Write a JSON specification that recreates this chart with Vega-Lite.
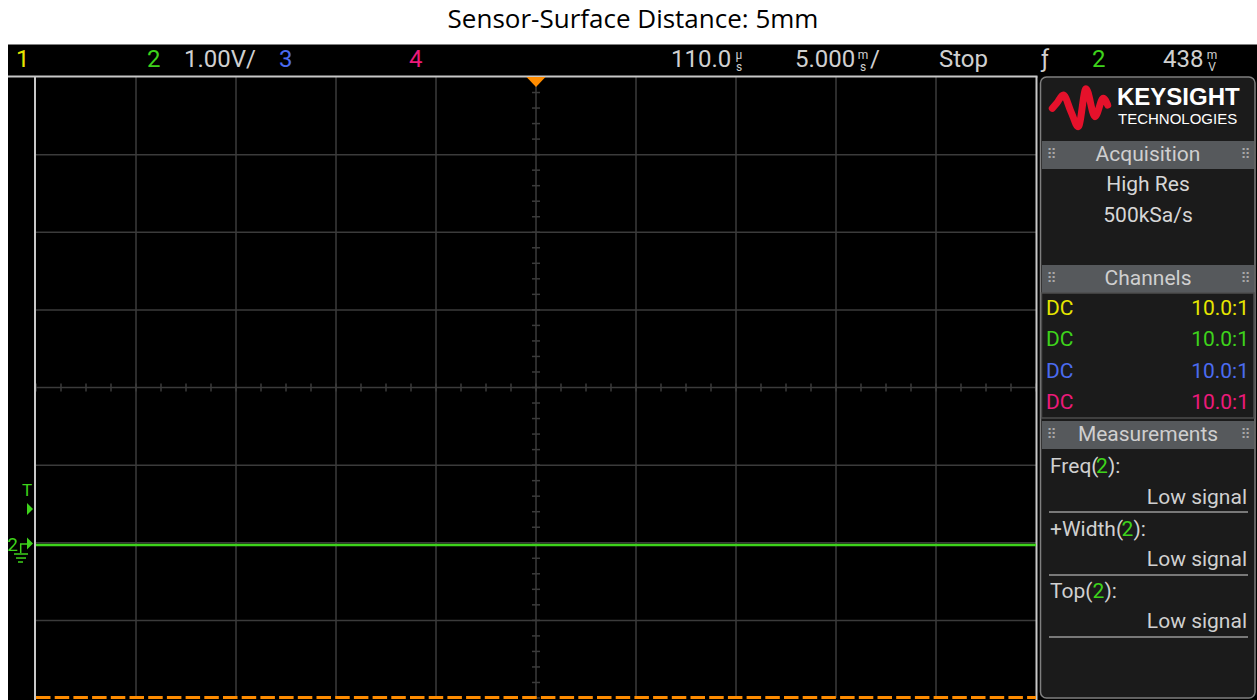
{
  "$schema": "https://vega.github.io/schema/vega-lite/v6.json",
  "width": 1000,
  "height": 621,
  "autosize": {"type": "none"},
  "padding": {"left": 36, "top": 77, "right": 221, "bottom": 2},
  "background": "#000000",
  "config": {"view": {"stroke": null}},
  "datasets": {
    "trace": [
      {"t": -5, "v": -2.03}, {"t": -4, "v": -2.03}, {"t": -3, "v": -2.03}, {"t": -2, "v": -2.03},
      {"t": -1, "v": -2.03}, {"t": 0, "v": -2.03}, {"t": 1, "v": -2.03}, {"t": 2, "v": -2.03},
      {"t": 3, "v": -2.03}, {"t": 4, "v": -2.03}, {"t": 5, "v": -2.03}
    ],
    "gridX": [{"d": -4}, {"d": -3}, {"d": -2}, {"d": -1}, {"d": 0}, {"d": 1}, {"d": 2}, {"d": 3}, {"d": 4}],
    "gridY": [{"d": -3}, {"d": -2}, {"d": -1}, {"d": 0}, {"d": 1}, {"d": 2}, {"d": 3}],
    "tickX": [
      {"d": -5}, {"d": -4.75}, {"d": -4.5}, {"d": -4.25}, {"d": -4}, {"d": -3.75}, {"d": -3.5}, {"d": -3.25},
      {"d": -3}, {"d": -2.75}, {"d": -2.5}, {"d": -2.25}, {"d": -2}, {"d": -1.75}, {"d": -1.5}, {"d": -1.25},
      {"d": -1}, {"d": -0.75}, {"d": -0.5}, {"d": -0.25}, {"d": 0}, {"d": 0.25}, {"d": 0.5}, {"d": 0.75},
      {"d": 1}, {"d": 1.25}, {"d": 1.5}, {"d": 1.75}, {"d": 2}, {"d": 2.25}, {"d": 2.5}, {"d": 2.75},
      {"d": 3}, {"d": 3.25}, {"d": 3.5}, {"d": 3.75}, {"d": 4}, {"d": 4.25}, {"d": 4.5}, {"d": 4.75}, {"d": 5}
    ],
    "tickY": [
      {"d": -4}, {"d": -3.8}, {"d": -3.6}, {"d": -3.4}, {"d": -3.2}, {"d": -3}, {"d": -2.8}, {"d": -2.6},
      {"d": -2.4}, {"d": -2.2}, {"d": -2}, {"d": -1.8}, {"d": -1.6}, {"d": -1.4}, {"d": -1.2}, {"d": -1},
      {"d": -0.8}, {"d": -0.6}, {"d": -0.4}, {"d": -0.2}, {"d": 0}, {"d": 0.2}, {"d": 0.4}, {"d": 0.6},
      {"d": 0.8}, {"d": 1}, {"d": 1.2}, {"d": 1.4}, {"d": 1.6}, {"d": 1.8}, {"d": 2}, {"d": 2.2},
      {"d": 2.4}, {"d": 2.6}, {"d": 2.8}, {"d": 3}, {"d": 3.2}, {"d": 3.4}, {"d": 3.6}, {"d": 3.8}, {"d": 4}
    ],
    "topbar": [
      {"label": "1", "x": -5.2, "ch": "1"},
      {"label": "2", "x": -3.89, "ch": "2"},
      {"label": "1.00V/", "x": -3.52, "ch": "txt"},
      {"label": "3", "x": -2.57, "ch": "3"},
      {"label": "4", "x": -1.27, "ch": "4"},
      {"label": "110.0", "x": 1.35, "ch": "txt"},
      {"label": "5.000", "x": 2.59, "ch": "txt"},
      {"label": "/", "x": 3.34, "ch": "txt"},
      {"label": "Stop", "x": 4.03, "ch": "txt"},
      {"label": "ƒ", "x": 5.05, "ch": "txt"},
      {"label": "2", "x": 5.56, "ch": "2"},
      {"label": "438", "x": 6.27, "ch": "txt"}
    ],
    "units": [
      {"label": "µ", "x": 2.03, "y": 4.28},
      {"label": "s", "x": 2.03, "y": 4.13},
      {"label": "m", "x": 3.27, "y": 4.28},
      {"label": "s", "x": 3.27, "y": 4.13},
      {"label": "m", "x": 6.76, "y": 4.28},
      {"label": "V", "x": 6.76, "y": 4.13}
    ],
    "heads": [
      {"section": "Acquisition", "top": 3.1755, "bottom": 2.815, "mid": 2.995},
      {"section": "Channels", "top": 1.578, "bottom": 1.217, "mid": 1.398},
      {"section": "Measurements", "top": -0.432, "bottom": -0.792, "mid": -0.612}
    ],
    "acq": [
      {"label": "High Res", "y": 2.609},
      {"label": "500kSa/s", "y": 2.209}
    ],
    "channels": [
      {"ch": "1", "y": 1.011},
      {"ch": "2", "y": 0.612},
      {"ch": "3", "y": 0.2},
      {"ch": "4", "y": -0.2}
    ],
    "measParts": [
      {"label": "Freq(", "x": 5.14, "y": -1.024, "ch": "txt"},
      {"label": "2", "x": 5.6, "y": -1.024, "ch": "2"},
      {"label": "):", "x": 5.72, "y": -1.024, "ch": "txt"},
      {"label": "+Width(", "x": 5.14, "y": -1.836, "ch": "txt"},
      {"label": "2", "x": 5.855, "y": -1.836, "ch": "2"},
      {"label": "):", "x": 5.975, "y": -1.836, "ch": "txt"},
      {"label": "Top(", "x": 5.14, "y": -2.634, "ch": "txt"},
      {"label": "2", "x": 5.565, "y": -2.634, "ch": "2"},
      {"label": "):", "x": 5.685, "y": -2.634, "ch": "txt"}
    ],
    "measValues": [
      {"measure": "Freq", "value": "Low signal", "y": -1.424, "sep": -1.604},
      {"measure": "+Width", "value": "Low signal", "y": -2.222, "sep": -2.415},
      {"measure": "Top", "value": "Low signal", "y": -3.021, "sep": -3.214}
    ],
    "ground": [
      {"x1": -5.16, "x2": -5.09, "y1": -2.016, "y2": -2.016},
      {"x1": -5.153, "x2": -5.153, "y1": -2.016, "y2": -2.132},
      {"x1": -5.22, "x2": -5.08, "y1": -2.145, "y2": -2.145},
      {"x1": -5.2, "x2": -5.1, "y1": -2.197, "y2": -2.197},
      {"x1": -5.18, "x2": -5.13, "y1": -2.248, "y2": -2.248}
    ],
    "markers": [{"name": "T", "y": -1.565}, {"name": "2", "y": -2.01}],
    "logo": [
      {"x": 5.163, "y": 3.597}, {"x": 5.207, "y": 3.661}, {"x": 5.273, "y": 3.768},
      {"x": 5.35, "y": 3.553}, {"x": 5.423, "y": 3.36}, {"x": 5.5, "y": 3.85},
      {"x": 5.59, "y": 3.489}, {"x": 5.673, "y": 3.726}, {"x": 5.717, "y": 3.639}
    ]
  },
  "layer": [
    {
      "data": {"values": [{}]},
      "mark": {"type": "rect", "color": "#ffffff"},
      "encoding": {
        "x": {"datum": -5.37, "type": "quantitative", "scale": {"domain": [-5, 5], "nice": false, "zero": false}, "axis": null},
        "x2": {"datum": 7.22},
        "y": {"datum": 5.0, "type": "quantitative", "scale": {"domain": [-4, 4], "nice": false, "zero": false}, "axis": null},
        "y2": {"datum": 4.42}
      }
    },
    {
      "data": {"values": [{}]},
      "mark": {"type": "rect", "color": "#ffffff"},
      "encoding": {
        "x": {"datum": -5.37, "type": "quantitative", "scale": {"domain": [-5, 5], "nice": false, "zero": false}, "axis": null},
        "x2": {"datum": -5.28},
        "y": {"datum": 5.0, "type": "quantitative", "scale": {"domain": [-4, 4], "nice": false, "zero": false}, "axis": null},
        "y2": {"datum": -4.03}
      }
    },
    {
      "data": {"values": [{}]},
      "mark": {"type": "rect", "fill": "#1b1b1b", "stroke": "#7f7f7f", "strokeWidth": 1.5, "cornerRadius": 6},
      "encoding": {
        "x": {"datum": 5.045, "type": "quantitative", "scale": {"domain": [-5, 5], "nice": false, "zero": false}, "axis": null},
        "x2": {"datum": 7.19},
        "y": {"datum": 4.0, "type": "quantitative", "scale": {"domain": [-4, 4], "nice": false, "zero": false}, "axis": null},
        "y2": {"datum": -4.0}
      }
    },
    {
      "data": {"name": "heads"},
      "mark": {"type": "rect", "fill": "#56595c"},
      "encoding": {
        "x": {"datum": 5.06, "type": "quantitative", "scale": {"domain": [-5, 5], "nice": false, "zero": false}, "axis": null},
        "x2": {"datum": 7.18},
        "y": {"field": "top", "type": "quantitative", "scale": {"domain": [-4, 4], "nice": false, "zero": false}, "axis": null},
        "y2": {"field": "bottom"}
      }
    },
    {
      "data": {"values": [{}]},
      "mark": {"type": "rect", "fill": "#1b1b1b", "stroke": "#4d4d4d", "strokeWidth": 1.5},
      "encoding": {
        "x": {"datum": 5.055, "type": "quantitative", "scale": {"domain": [-5, 5], "nice": false, "zero": false}, "axis": null},
        "x2": {"datum": 7.18},
        "y": {"datum": 1.217, "type": "quantitative", "scale": {"domain": [-4, 4], "nice": false, "zero": false}, "axis": null},
        "y2": {"datum": -0.393}
      }
    },
    {
      "data": {"name": "gridX"},
      "mark": {"type": "rule", "color": "#3b3b3b", "strokeWidth": 1.5},
      "encoding": {
        "x": {"field": "d", "type": "quantitative", "scale": {"domain": [-5, 5], "nice": false, "zero": false}, "axis": null},
        "y": {"datum": -4, "type": "quantitative", "scale": {"domain": [-4, 4], "nice": false, "zero": false}, "axis": null},
        "y2": {"datum": 4}
      }
    },
    {
      "data": {"name": "gridY"},
      "mark": {"type": "rule", "color": "#3b3b3b", "strokeWidth": 1.5},
      "encoding": {
        "y": {"field": "d", "type": "quantitative", "scale": {"domain": [-4, 4], "nice": false, "zero": false}, "axis": null},
        "x": {"datum": -5, "type": "quantitative", "scale": {"domain": [-5, 5], "nice": false, "zero": false}, "axis": null},
        "x2": {"datum": 5}
      }
    },
    {
      "data": {"name": "tickX"},
      "mark": {"type": "rule", "color": "#3b3b3b", "strokeWidth": 1.5},
      "encoding": {
        "x": {"field": "d", "type": "quantitative", "scale": {"domain": [-5, 5], "nice": false, "zero": false}, "axis": null},
        "y": {"datum": -0.052, "type": "quantitative", "scale": {"domain": [-4, 4], "nice": false, "zero": false}, "axis": null},
        "y2": {"datum": 0.052}
      }
    },
    {
      "data": {"name": "tickY"},
      "mark": {"type": "rule", "color": "#3b3b3b", "strokeWidth": 1.5},
      "encoding": {
        "y": {"field": "d", "type": "quantitative", "scale": {"domain": [-4, 4], "nice": false, "zero": false}, "axis": null},
        "x": {"datum": -0.04, "type": "quantitative", "scale": {"domain": [-5, 5], "nice": false, "zero": false}, "axis": null},
        "x2": {"datum": 0.04}
      }
    },
    {
      "data": {"values": [{}]},
      "mark": {"type": "rule", "color": "#c8c8c8", "strokeWidth": 2},
      "encoding": {
        "x": {"datum": -5.01, "type": "quantitative", "scale": {"domain": [-5, 5], "nice": false, "zero": false}, "axis": null},
        "y": {"datum": 4.006, "type": "quantitative", "scale": {"domain": [-4, 4], "nice": false, "zero": false}, "axis": null},
        "y2": {"datum": -4.03}
      }
    },
    {
      "data": {"values": [{}]},
      "mark": {"type": "rule", "color": "#c8c8c8", "strokeWidth": 2},
      "encoding": {
        "x": {"datum": 5.005, "type": "quantitative", "scale": {"domain": [-5, 5], "nice": false, "zero": false}, "axis": null},
        "y": {"datum": 4.006, "type": "quantitative", "scale": {"domain": [-4, 4], "nice": false, "zero": false}, "axis": null},
        "y2": {"datum": -4.03}
      }
    },
    {
      "data": {"values": [{}]},
      "mark": {"type": "rule", "color": "#c8c8c8", "strokeWidth": 2},
      "encoding": {
        "y": {"datum": 4.006, "type": "quantitative", "scale": {"domain": [-4, 4], "nice": false, "zero": false}, "axis": null},
        "x": {"datum": -5.28, "type": "quantitative", "scale": {"domain": [-5, 5], "nice": false, "zero": false}, "axis": null},
        "x2": {"datum": 5.015}
      }
    },
    {
      "data": {"values": [{}]},
      "mark": {"type": "rule", "color": "#ff8c00", "strokeWidth": 3, "strokeDash": [14.5, 4.2]},
      "encoding": {
        "y": {"datum": -3.995, "type": "quantitative", "scale": {"domain": [-4, 4], "nice": false, "zero": false}, "axis": null},
        "x": {"datum": -5, "type": "quantitative", "scale": {"domain": [-5, 5], "nice": false, "zero": false}, "axis": null},
        "x2": {"datum": 5}
      }
    },
    {
      "data": {"values": [{}]},
      "mark": {"type": "point", "filled": true, "opacity": 1, "color": "#ff8c00", "shape": "M-1,-0.5L1,-0.5L0,0.55Z", "size": 361},
      "encoding": {
        "x": {"datum": 0, "type": "quantitative", "scale": {"domain": [-5, 5], "nice": false, "zero": false}, "axis": null},
        "y": {"datum": 3.939, "type": "quantitative", "scale": {"domain": [-4, 4], "nice": false, "zero": false}, "axis": null}
      }
    },
    {
      "data": {"name": "trace"},
      "mark": {"type": "line", "color": "#3ed31b", "strokeWidth": 2.5},
      "encoding": {
        "x": {"field": "t", "type": "quantitative", "scale": {"domain": [-5, 5], "nice": false, "zero": false}, "axis": null},
        "y": {"field": "v", "type": "quantitative", "scale": {"domain": [-4, 4], "nice": false, "zero": false}, "axis": null}
      }
    },
    {
      "data": {"name": "markers"},
      "mark": {"type": "point", "filled": true, "opacity": 1, "color": "#3ed31b", "shape": "M-0.5,-1L0.5,0L-0.5,1Z", "size": 144},
      "encoding": {
        "x": {"datum": -5.06, "type": "quantitative", "scale": {"domain": [-5, 5], "nice": false, "zero": false}, "axis": null},
        "y": {"field": "y", "type": "quantitative", "scale": {"domain": [-4, 4], "nice": false, "zero": false}, "axis": null}
      }
    },
    {
      "data": {"name": "ground"},
      "mark": {"type": "rule", "color": "#3ed31b", "strokeWidth": 1.5},
      "encoding": {
        "x": {"field": "x1", "type": "quantitative", "scale": {"domain": [-5, 5], "nice": false, "zero": false}, "axis": null},
        "x2": {"field": "x2"},
        "y": {"field": "y1", "type": "quantitative", "scale": {"domain": [-4, 4], "nice": false, "zero": false}, "axis": null},
        "y2": {"field": "y2"}
      }
    },
    {
      "data": {"values": [{}]},
      "mark": {"type": "text", "text": "T", "color": "#3ed31b", "fontSize": 17, "font": "Roboto", "align": "center", "baseline": "middle"},
      "encoding": {
        "x": {"datum": -5.09, "type": "quantitative", "scale": {"domain": [-5, 5], "nice": false, "zero": false}, "axis": null},
        "y": {"datum": -1.333, "type": "quantitative", "scale": {"domain": [-4, 4], "nice": false, "zero": false}, "axis": null}
      }
    },
    {
      "data": {"values": [{}]},
      "mark": {"type": "text", "text": "2", "color": "#3ed31b", "fontSize": 19, "font": "Roboto", "align": "center", "baseline": "middle"},
      "encoding": {
        "x": {"datum": -5.235, "type": "quantitative", "scale": {"domain": [-5, 5], "nice": false, "zero": false}, "axis": null},
        "y": {"datum": -2.029, "type": "quantitative", "scale": {"domain": [-4, 4], "nice": false, "zero": false}, "axis": null}
      }
    },
    {
      "data": {"values": [{}]},
      "mark": {"type": "text", "text": "Sensor-Surface Distance: 5mm", "color": "#000000", "fontSize": 26, "font": "Open Sans", "align": "center", "baseline": "middle"},
      "encoding": {
        "x": {"datum": 0.97, "type": "quantitative", "scale": {"domain": [-5, 5], "nice": false, "zero": false}, "axis": null},
        "y": {"datum": 4.74, "type": "quantitative", "scale": {"domain": [-4, 4], "nice": false, "zero": false}, "axis": null}
      }
    },
    {
      "data": {"name": "topbar"},
      "mark": {"type": "text", "fontSize": 24, "font": "Roboto", "align": "left", "baseline": "middle"},
      "encoding": {
        "x": {"field": "x", "type": "quantitative", "scale": {"domain": [-5, 5], "nice": false, "zero": false}, "axis": null},
        "y": {"datum": 4.219, "type": "quantitative", "scale": {"domain": [-4, 4], "nice": false, "zero": false}, "axis": null},
        "text": {"field": "label"},
        "color": {"field": "ch", "type": "nominal", "scale": {"domain": ["1", "2", "3", "4", "txt"], "range": ["#e6e600", "#3ed31b", "#4b6bf0", "#ec1a7a", "#d0d0d0"]}, "legend": null}
      }
    },
    {
      "data": {"name": "units"},
      "mark": {"type": "text", "fontSize": 12, "font": "Roboto", "align": "center", "baseline": "middle", "color": "#d0d0d0"},
      "encoding": {
        "x": {"field": "x", "type": "quantitative", "scale": {"domain": [-5, 5], "nice": false, "zero": false}, "axis": null},
        "y": {"field": "y", "type": "quantitative", "scale": {"domain": [-4, 4], "nice": false, "zero": false}, "axis": null},
        "text": {"field": "label"}
      }
    },
    {
      "data": {"name": "heads"},
      "mark": {"type": "text", "fontSize": 21, "font": "Roboto", "align": "center", "baseline": "middle", "color": "#cfcfcf"},
      "encoding": {
        "x": {"datum": 6.12, "type": "quantitative", "scale": {"domain": [-5, 5], "nice": false, "zero": false}, "axis": null},
        "y": {"field": "mid", "type": "quantitative", "scale": {"domain": [-4, 4], "nice": false, "zero": false}, "axis": null},
        "text": {"field": "section"}
      }
    },
    {
      "data": {"name": "heads"},
      "mark": {"type": "text", "text": "⠿", "fontSize": 14, "font": "DejaVu Sans", "align": "center", "baseline": "middle", "color": "#a8a8a8"},
      "encoding": {
        "x": {"datum": 5.155, "type": "quantitative", "scale": {"domain": [-5, 5], "nice": false, "zero": false}, "axis": null},
        "y": {"field": "mid", "type": "quantitative", "scale": {"domain": [-4, 4], "nice": false, "zero": false}, "axis": null}
      }
    },
    {
      "data": {"name": "heads"},
      "mark": {"type": "text", "text": "⠿", "fontSize": 14, "font": "DejaVu Sans", "align": "center", "baseline": "middle", "color": "#a8a8a8"},
      "encoding": {
        "x": {"datum": 7.095, "type": "quantitative", "scale": {"domain": [-5, 5], "nice": false, "zero": false}, "axis": null},
        "y": {"field": "mid", "type": "quantitative", "scale": {"domain": [-4, 4], "nice": false, "zero": false}, "axis": null}
      }
    },
    {
      "data": {"name": "acq"},
      "mark": {"type": "text", "fontSize": 21, "font": "Roboto", "align": "center", "baseline": "middle", "color": "#d6d6d6"},
      "encoding": {
        "x": {"datum": 6.12, "type": "quantitative", "scale": {"domain": [-5, 5], "nice": false, "zero": false}, "axis": null},
        "y": {"field": "y", "type": "quantitative", "scale": {"domain": [-4, 4], "nice": false, "zero": false}, "axis": null},
        "text": {"field": "label"}
      }
    },
    {
      "data": {"name": "channels"},
      "mark": {"type": "text", "fontSize": 21, "font": "Roboto", "align": "left", "baseline": "middle"},
      "encoding": {
        "x": {"datum": 5.1, "type": "quantitative", "scale": {"domain": [-5, 5], "nice": false, "zero": false}, "axis": null},
        "y": {"field": "y", "type": "quantitative", "scale": {"domain": [-4, 4], "nice": false, "zero": false}, "axis": null},
        "text": {"value": "DC"},
        "color": {"field": "ch", "type": "nominal", "scale": {"domain": ["1", "2", "3", "4", "txt"], "range": ["#e6e600", "#3ed31b", "#4b6bf0", "#ec1a7a", "#d0d0d0"]}, "legend": null}
      }
    },
    {
      "data": {"name": "channels"},
      "mark": {"type": "text", "fontSize": 21, "font": "Roboto", "align": "right", "baseline": "middle"},
      "encoding": {
        "x": {"datum": 7.13, "type": "quantitative", "scale": {"domain": [-5, 5], "nice": false, "zero": false}, "axis": null},
        "y": {"field": "y", "type": "quantitative", "scale": {"domain": [-4, 4], "nice": false, "zero": false}, "axis": null},
        "text": {"value": "10.0:1"},
        "color": {"field": "ch", "type": "nominal", "scale": {"domain": ["1", "2", "3", "4", "txt"], "range": ["#e6e600", "#3ed31b", "#4b6bf0", "#ec1a7a", "#d0d0d0"]}, "legend": null}
      }
    },
    {
      "data": {"name": "measParts"},
      "mark": {"type": "text", "fontSize": 21, "font": "Roboto", "align": "left", "baseline": "middle"},
      "encoding": {
        "x": {"field": "x", "type": "quantitative", "scale": {"domain": [-5, 5], "nice": false, "zero": false}, "axis": null},
        "y": {"field": "y", "type": "quantitative", "scale": {"domain": [-4, 4], "nice": false, "zero": false}, "axis": null},
        "text": {"field": "label"},
        "color": {"field": "ch", "type": "nominal", "scale": {"domain": ["1", "2", "3", "4", "txt"], "range": ["#e6e600", "#3ed31b", "#4b6bf0", "#ec1a7a", "#d0d0d0"]}, "legend": null}
      }
    },
    {
      "data": {"name": "measValues"},
      "mark": {"type": "text", "fontSize": 21, "font": "Roboto", "align": "right", "baseline": "middle", "color": "#d0d0d0"},
      "encoding": {
        "x": {"datum": 7.11, "type": "quantitative", "scale": {"domain": [-5, 5], "nice": false, "zero": false}, "axis": null},
        "y": {"field": "y", "type": "quantitative", "scale": {"domain": [-4, 4], "nice": false, "zero": false}, "axis": null},
        "text": {"field": "value"}
      }
    },
    {
      "data": {"name": "measValues"},
      "mark": {"type": "rule", "color": "#9a9a9a", "strokeWidth": 1.5},
      "encoding": {
        "x": {"datum": 5.13, "type": "quantitative", "scale": {"domain": [-5, 5], "nice": false, "zero": false}, "axis": null},
        "x2": {"datum": 7.12},
        "y": {"field": "sep", "type": "quantitative", "scale": {"domain": [-4, 4], "nice": false, "zero": false}, "axis": null}
      }
    },
    {
      "data": {"values": [{}]},
      "mark": {"type": "text", "text": "KEYSIGHT", "color": "#ffffff", "fontSize": 24, "fontWeight": "bold", "font": "Liberation Sans", "align": "left", "baseline": "middle"},
      "encoding": {
        "x": {"datum": 5.81, "type": "quantitative", "scale": {"domain": [-5, 5], "nice": false, "zero": false}, "axis": null},
        "y": {"datum": 3.73, "type": "quantitative", "scale": {"domain": [-4, 4], "nice": false, "zero": false}, "axis": null}
      }
    },
    {
      "data": {"values": [{}]},
      "mark": {"type": "text", "text": "TECHNOLOGIES", "color": "#ffffff", "fontSize": 15, "font": "Liberation Sans", "align": "left", "baseline": "middle"},
      "encoding": {
        "x": {"datum": 5.82, "type": "quantitative", "scale": {"domain": [-5, 5], "nice": false, "zero": false}, "axis": null},
        "y": {"datum": 3.459, "type": "quantitative", "scale": {"domain": [-4, 4], "nice": false, "zero": false}, "axis": null}
      }
    },
    {
      "data": {"name": "logo"},
      "mark": {"type": "line", "color": "#e5112b", "strokeWidth": 7, "interpolate": "monotone", "strokeCap": "round"},
      "encoding": {
        "x": {"field": "x", "type": "quantitative", "scale": {"domain": [-5, 5], "nice": false, "zero": false}, "axis": null},
        "y": {"field": "y", "type": "quantitative", "scale": {"domain": [-4, 4], "nice": false, "zero": false}, "axis": null}
      }
    }
  ]
}
